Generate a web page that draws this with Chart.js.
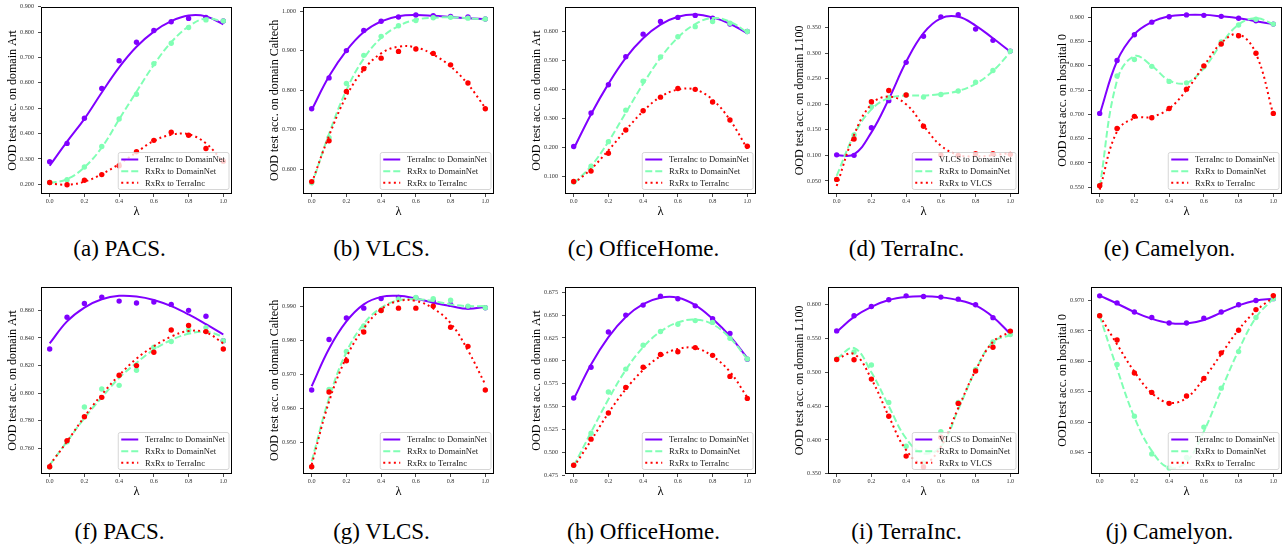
<!DOCTYPE html>
<html>
<head>
<meta charset="utf-8">
<script src="https://cdn.jsdelivr.net/npm/chart.js@4.4.0/dist/chart.umd.min.js"></script>
<style>
  body { margin: 0; background: #fff; width: 1287px; height: 550px; position: relative; overflow: hidden; }
  canvas { position: absolute; }
  .cap { position: absolute; font: 23px "Liberation Serif", serif; color: #000; white-space: nowrap; transform: translate(-50%, -50%); line-height: 1; }
</style>
</head>
<body>
<script>
// lambda values shared by all panels
const LAMBDA = [0, 0.1, 0.2, 0.3, 0.4, 0.5, 0.6, 0.7, 0.8, 0.9, 1.0];
const X_TICKS = [0, 0.2, 0.4, 0.6, 0.8, 1.0];

const NAMES_TERRA = ['TerraInc to DomainNet', 'RxRx to DomainNet', 'RxRx to TerraInc'];
const NAMES_VLCS = ['VLCS to DomainNet', 'RxRx to DomainNet', 'RxRx to VLCS'];

// p = measured points, f = fitted curve, 1 purple / 2 green / 3 red
// (a) PACS
const a_p1 = [0.289, 0.361, 0.460, 0.578, 0.687, 0.760, 0.806, 0.841, 0.854, 0.858, 0.844];
const a_f1 = [0.273, 0.368, 0.458, 0.562, 0.661, 0.742, 0.802, 0.843, 0.865, 0.862, 0.831];
const a_p2 = [0.207, 0.218, 0.268, 0.349, 0.457, 0.555, 0.675, 0.756, 0.818, 0.848, 0.844];
const a_f2 = [0.204, 0.220, 0.267, 0.345, 0.456, 0.565, 0.671, 0.760, 0.822, 0.854, 0.841];
const a_p3 = [0.207, 0.198, 0.216, 0.238, 0.273, 0.328, 0.373, 0.405, 0.393, 0.341, 0.291];
const a_f3 = [0.203, 0.198, 0.210, 0.240, 0.280, 0.326, 0.371, 0.395, 0.397, 0.361, 0.287];
const a_ticks = [0.2, 0.3, 0.4, 0.5, 0.6, 0.7, 0.8, 0.9];

// (b) VLCS
const b_p1 = [0.753, 0.831, 0.900, 0.951, 0.974, 0.985, 0.990, 0.988, 0.986, 0.985, 0.980];
const b_f1 = [0.750, 0.835, 0.900, 0.947, 0.974, 0.987, 0.990, 0.988, 0.985, 0.982, 0.980];
const b_p2 = [0.566, 0.680, 0.817, 0.888, 0.936, 0.963, 0.976, 0.983, 0.984, 0.982, 0.980];
const b_f2 = [0.560, 0.690, 0.800, 0.880, 0.932, 0.962, 0.978, 0.983, 0.984, 0.982, 0.978];
const b_p3 = [0.569, 0.672, 0.797, 0.854, 0.881, 0.898, 0.904, 0.893, 0.864, 0.818, 0.753];
const b_f3 = [0.565, 0.685, 0.785, 0.852, 0.893, 0.910, 0.908, 0.890, 0.860, 0.815, 0.755];
const b_ticks = [0.6, 0.7, 0.8, 0.9, 1.0];

// (c) OfficeHome
const c_p1 = [0.203, 0.319, 0.417, 0.514, 0.592, 0.636, 0.650, 0.657, 0.647, 0.627, 0.601];
const c_f1 = [0.195, 0.315, 0.420, 0.510, 0.578, 0.625, 0.652, 0.660, 0.650, 0.628, 0.595];
const c_p2 = [0.080, 0.135, 0.220, 0.329, 0.429, 0.513, 0.583, 0.618, 0.636, 0.630, 0.601];
const c_f2 = [0.075, 0.135, 0.220, 0.320, 0.420, 0.510, 0.580, 0.627, 0.648, 0.635, 0.598];
const c_p3 = [0.082, 0.118, 0.180, 0.260, 0.327, 0.374, 0.404, 0.401, 0.357, 0.295, 0.204];
const c_f3 = [0.075, 0.125, 0.190, 0.260, 0.325, 0.375, 0.400, 0.400, 0.365, 0.295, 0.195];
const c_ticks = [0.1, 0.2, 0.3, 0.4, 0.5, 0.6];

// (d) TerraInc
const d_p1 = [0.101, 0.100, 0.154, 0.207, 0.282, 0.333, 0.371, 0.375, 0.347, 0.325, 0.304];
const d_f1 = [0.100, 0.102, 0.145, 0.210, 0.283, 0.339, 0.368, 0.371, 0.354, 0.329, 0.303];
const d_p2 = [0.053, 0.140, 0.195, 0.213, 0.218, 0.214, 0.219, 0.226, 0.243, 0.266, 0.304];
const d_f2 = [0.060, 0.140, 0.190, 0.212, 0.217, 0.217, 0.220, 0.226, 0.240, 0.265, 0.302];
const d_p3 = [0.053, 0.132, 0.205, 0.227, 0.218, 0.157, 0.101, 0.100, 0.103, 0.103, 0.102];
const d_f3 = [0.040, 0.140, 0.200, 0.215, 0.200, 0.158, 0.119, 0.101, 0.098, 0.100, 0.105];
const d_ticks = [0.05, 0.1, 0.15, 0.2, 0.25, 0.3, 0.35];

// (e) Camelyon
const e_p1 = [0.702, 0.811, 0.864, 0.890, 0.901, 0.905, 0.904, 0.902, 0.898, 0.893, 0.886];
const e_f1 = [0.700, 0.810, 0.865, 0.890, 0.902, 0.905, 0.905, 0.902, 0.898, 0.892, 0.886];
const e_p2 = [0.553, 0.779, 0.813, 0.799, 0.768, 0.765, 0.798, 0.849, 0.884, 0.896, 0.886];
const e_f2 = [0.550, 0.770, 0.820, 0.800, 0.770, 0.765, 0.795, 0.845, 0.885, 0.898, 0.886];
const e_p3 = [0.553, 0.671, 0.696, 0.693, 0.712, 0.752, 0.800, 0.845, 0.862, 0.826, 0.702];
const e_f3 = [0.545, 0.665, 0.692, 0.695, 0.712, 0.750, 0.800, 0.847, 0.865, 0.825, 0.700];
const e_ticks = [0.55, 0.6, 0.65, 0.7, 0.75, 0.8, 0.85, 0.9];

// (f) PACS
const f_p1 = [0.832, 0.855, 0.865, 0.8696, 0.8667, 0.8653, 0.866, 0.8643, 0.860, 0.8557, 0.838];
const f_f1 = [0.836, 0.852, 0.862, 0.868, 0.8705, 0.870, 0.8675, 0.863, 0.857, 0.850, 0.8425];
const f_p2 = [0.7465, 0.7648, 0.790, 0.803, 0.8057, 0.8166, 0.8333, 0.8374, 0.8456, 0.8475, 0.838];
const f_f2 = [0.748, 0.765, 0.782, 0.797, 0.811, 0.822, 0.8315, 0.8385, 0.843, 0.8445, 0.841];
const f_p3 = [0.7468, 0.7657, 0.783, 0.797, 0.813, 0.820, 0.8297, 0.8458, 0.849, 0.8446, 0.832];
const f_f3 = [0.748, 0.765, 0.783, 0.799, 0.813, 0.825, 0.834, 0.841, 0.845, 0.844, 0.836];
const f_ticks = [0.76, 0.78, 0.80, 0.82, 0.84, 0.86];

// (g) VLCS
const g_p1 = [0.9654, 0.9802, 0.9865, 0.9894, 0.9922, 0.9925, 0.9924, 0.9915, 0.9905, 0.9897, 0.9895];
const g_f1 = [0.9665, 0.9775, 0.9855, 0.9905, 0.9927, 0.9930, 0.9922, 0.9910, 0.9900, 0.9892, 0.9898];
const g_p2 = [0.9429, 0.9656, 0.9767, 0.9842, 0.9887, 0.9920, 0.9925, 0.9922, 0.9917, 0.9900, 0.9895];
const g_f2 = [0.9445, 0.9630, 0.9765, 0.9848, 0.9895, 0.9917, 0.9920, 0.9915, 0.9905, 0.9900, 0.9900];
const g_p3 = [0.9429, 0.9648, 0.9740, 0.9824, 0.9887, 0.9894, 0.9894, 0.9900, 0.9838, 0.9782, 0.9654];
const g_f3 = [0.9435, 0.9620, 0.9750, 0.9835, 0.9890, 0.9915, 0.9915, 0.9893, 0.9850, 0.9770, 0.9670];
const g_ticks = [0.95, 0.96, 0.97, 0.98, 0.99];

// (h) OfficeHome
const h_p1 = [0.5594, 0.5931, 0.6315, 0.650, 0.6609, 0.6707, 0.6678, 0.6601, 0.646, 0.630, 0.6018];
const h_f1 = [0.558, 0.596, 0.626, 0.648, 0.662, 0.669, 0.669, 0.661, 0.646, 0.627, 0.603];
const h_p2 = [0.486, 0.521, 0.566, 0.591, 0.617, 0.632, 0.640, 0.644, 0.642, 0.6246, 0.602];
const h_f2 = [0.485, 0.522, 0.558, 0.590, 0.615, 0.632, 0.642, 0.645, 0.640, 0.625, 0.602];
const h_p3 = [0.486, 0.5145, 0.543, 0.571, 0.593, 0.607, 0.610, 0.6145, 0.606, 0.583, 0.559];
const h_f3 = [0.484, 0.513, 0.543, 0.569, 0.590, 0.605, 0.613, 0.614, 0.605, 0.588, 0.560];
const h_ticks = [0.475, 0.5, 0.525, 0.55, 0.575, 0.6, 0.625, 0.65, 0.675];

// (i) TerraInc
const i_p1 = [0.5613, 0.5838, 0.5975, 0.6074, 0.6132, 0.6123, 0.6113, 0.6083, 0.600, 0.5809, 0.5603];
const i_f1 = [0.560, 0.582, 0.597, 0.607, 0.6115, 0.6125, 0.611, 0.607, 0.599, 0.582, 0.557];
const i_p2 = [0.5196, 0.530, 0.5108, 0.4554, 0.3907, 0.366, 0.412, 0.4554, 0.5044, 0.545, 0.556];
const i_f2 = [0.520, 0.536, 0.500, 0.450, 0.402, 0.380, 0.390, 0.445, 0.503, 0.545, 0.555];
const i_p3 = [0.519, 0.5186, 0.490, 0.435, 0.376, 0.360, 0.404, 0.454, 0.502, 0.537, 0.561];
const i_f3 = [0.520, 0.527, 0.490, 0.435, 0.385, 0.365, 0.390, 0.447, 0.503, 0.545, 0.560];
const i_ticks = [0.35, 0.4, 0.45, 0.5, 0.55, 0.6];

// (j) Camelyon
const j_p1 = [0.97076, 0.9696, 0.9681, 0.9672, 0.9663, 0.9663, 0.9671, 0.9681, 0.9693, 0.9700, 0.9703];
const j_f1 = [0.9708, 0.9695, 0.9681, 0.9670, 0.9663, 0.9662, 0.9668, 0.9680, 0.9692, 0.9700, 0.9703];
const j_p2 = [0.9675, 0.9595, 0.9510, 0.9448, 0.9425, 0.9442, 0.9492, 0.9556, 0.9616, 0.9672, 0.9703];
const j_f2 = [0.9675, 0.9588, 0.9508, 0.9453, 0.9425, 0.9435, 0.9485, 0.9553, 0.9618, 0.9672, 0.9703];
const j_p3 = [0.9675, 0.9635, 0.9581, 0.9549, 0.9531, 0.9543, 0.9572, 0.9614, 0.9651, 0.9685, 0.9708];
const j_f3 = [0.9675, 0.9628, 0.9583, 0.9548, 0.9532, 0.9540, 0.9572, 0.9612, 0.9652, 0.9683, 0.9705];
const j_ticks = [0.945, 0.95, 0.955, 0.96, 0.965, 0.97];

const PANELS = [
  { cap: '(a) PACS.',       ytitle: 'OOD test acc. on domain Art',     names: NAMES_TERRA, pts: [a_p1, a_p2, a_p3], fit: [a_f1, a_f2, a_f3], ticks: a_ticks, min: 0.1615, max: 0.900 },
  { cap: '(b) VLCS.',       ytitle: 'OOD test acc. on domain Caltech', names: NAMES_TERRA, pts: [b_p1, b_p2, b_p3], fit: [b_f1, b_f2, b_f3], ticks: b_ticks, min: 0.5377, max: 1.0109 },
  { cap: '(c) OfficeHome.', ytitle: 'OOD test acc. on domain Art',     names: NAMES_TERRA, pts: [c_p1, c_p2, c_p3], fit: [c_f1, c_f2, c_f3], ticks: c_ticks, min: 0.0387, max: 0.687 },
  { cap: '(d) TerraInc.',   ytitle: 'OOD test acc. on domain L100',    names: NAMES_VLCS,  pts: [d_p1, d_p2, d_p3], fit: [d_f1, d_f2, d_f3], ticks: d_ticks, min: 0.0244, max: 0.3908 },
  { cap: '(e) Camelyon.',   ytitle: 'OOD test acc. on hospital 0',     names: NAMES_TERRA, pts: [e_p1, e_p2, e_p3], fit: [e_f1, e_f2, e_f3], ticks: e_ticks, min: 0.536, max: 0.9218 },
  { cap: '(f) PACS.',       ytitle: 'OOD test acc. on domain Art',     names: NAMES_TERRA, pts: [f_p1, f_p2, f_p3], fit: [f_f1, f_f2, f_f3], ticks: f_ticks, min: 0.7415, max: 0.8771 },
  { cap: '(g) VLCS.',       ytitle: 'OOD test acc. on domain Caltech', names: NAMES_TERRA, pts: [g_p1, g_p2, g_p3], fit: [g_f1, g_f2, g_f3], ticks: g_ticks, min: 0.94078, max: 0.99568 },
  { cap: '(h) OfficeHome.', ytitle: 'OOD test acc. on domain Art',     names: NAMES_TERRA, pts: [h_p1, h_p2, h_p3], fit: [h_f1, h_f2, h_f3], ticks: h_ticks, min: 0.4764, max: 0.681 },
  { cap: '(i) TerraInc.',   ytitle: 'OOD test acc. on domain L100',    names: NAMES_VLCS,  pts: [i_p1, i_p2, i_p3], fit: [i_f1, i_f2, i_f3], ticks: i_ticks, min: 0.3495, max: 0.6267 },
  { cap: '(j) Camelyon.',   ytitle: 'OOD test acc. on hospital 0',     names: NAMES_TERRA, pts: [j_p1, j_p2, j_p3], fit: [j_f1, j_f2, j_f3], ticks: j_ticks, min: 0.9415, max: 0.97226 }
];

// look of the three series (rainbow colormap ends + middle)
const COLORS = ['#8000ff', '#80ffb4', '#ff0000'];
const DASHES = [[], [7, 3], [2, 3.3]];

// layout of the 2x5 grid
const COL_LEFT = [41, 303, 565, 828, 1091];
const ROW_TOP = [5, 285];
const CAP_Y = [248, 531];
const PLOT_W = 191, PLOT_H = 189;
const Y_AXIS_W = 35, X_AXIS_H = 25, PAD_T = 6, PAD_R = 4;
const SERIF = '"Liberation Serif", "Times New Roman", serif';

// matplotlib-like box around the axes + legend inside lower right
const frameAndLegend = {
  id: 'frameAndLegend',
  afterDatasetsDraw(chart) {
    const { ctx, chartArea: a } = chart;
    ctx.save();
    ctx.strokeStyle = '#000';
    ctx.lineWidth = 1;
    ctx.strokeRect(Math.round(a.left) + 0.5, Math.round(a.top) + 0.5, Math.round(a.right - a.left) - 1, Math.round(a.bottom - a.top) - 1);

    const items = chart.data.datasets.filter(d => d.isFit);
    ctx.font = '8.6px ' + SERIF;
    const textW = Math.max(...items.map(d => ctx.measureText(d.label).width));
    const w = 26.7 + textW + 4, h = 37;
    const x = a.right - 3 - w, y = a.bottom - 4.5 - h, r = 2;
    ctx.beginPath();
    ctx.moveTo(x + r, y);
    ctx.arcTo(x + w, y, x + w, y + h, r);
    ctx.arcTo(x + w, y + h, x, y + h, r);
    ctx.arcTo(x, y + h, x, y, r);
    ctx.arcTo(x, y, x + w, y, r);
    ctx.closePath();
    ctx.fillStyle = 'rgba(255,255,255,0.8)';
    ctx.fill();
    ctx.strokeStyle = '#cccccc';
    ctx.lineWidth = 0.8;
    ctx.stroke();

    items.forEach((d, k) => {
      const cy = y + 7 + 11.65 * k;
      ctx.beginPath();
      ctx.setLineDash(d.borderDash);
      ctx.strokeStyle = d.borderColor;
      ctx.lineWidth = d.borderWidth;
      ctx.moveTo(x + 3, cy);
      ctx.lineTo(x + 20, cy);
      ctx.stroke();
      ctx.setLineDash([]);
      ctx.fillStyle = '#222';
      ctx.textBaseline = 'middle';
      ctx.textAlign = 'left';
      ctx.fillText(d.label, x + 26.7, cy + 0.5);
    });
    ctx.restore();
  }
};

PANELS.forEach((p, idx) => {
  const col = idx % 5, row = Math.floor(idx / 5);
  const plotLeft = COL_LEFT[col], plotTop = ROW_TOP[row];

  const cv = document.createElement('canvas');
  cv.width = Y_AXIS_W + PLOT_W + PAD_R;
  cv.height = PAD_T + PLOT_H + X_AXIS_H;
  cv.style.left = (plotLeft - Y_AXIS_W) + 'px';
  cv.style.top = (plotTop - PAD_T) + 'px';
  document.body.appendChild(cv);

  const cap = document.createElement('div');
  cap.className = 'cap';
  cap.textContent = p.cap;
  cap.style.left = (plotLeft + PLOT_W / 2 - 17) + 'px';
  cap.style.top = CAP_Y[row] + 'px';
  document.body.appendChild(cap);

  const datasets = [];
  p.fit.forEach((fit, k) => {
    datasets.push({
      label: p.names[k], isFit: true,
      data: LAMBDA.map((x, j) => ({ x, y: fit[j] })),
      showLine: true, borderColor: COLORS[k], borderWidth: 2, borderDash: DASHES[k],
      pointRadius: 0, tension: 0.4, order: 5 - 2 * k
    });
    datasets.push({
      label: p.names[k] + ' (points)',
      data: LAMBDA.map((x, j) => ({ x, y: p.pts[k][j] })),
      backgroundColor: COLORS[k], borderWidth: 0, pointRadius: 2.7, order: 4 - 2 * k
    });
  });

  const axisBits = {
    grid: { display: true, drawOnChartArea: false, tickLength: 3, color: '#000', lineWidth: 0.7 },
    border: { display: false }
  };

  new Chart(cv, {
    type: 'scatter',
    data: { datasets },
    options: {
      responsive: false,
      animation: false,
      events: [],
      layout: { padding: { top: PAD_T, right: PAD_R, left: 0, bottom: 0 } },
      plugins: { legend: { display: false }, tooltip: { enabled: false } },
      scales: {
        x: {
          type: 'linear', min: -0.05, max: 1.05, ...axisBits,
          afterBuildTicks: s => { s.ticks = X_TICKS.map(v => ({ value: v })); },
          afterFit: s => { s.height = X_AXIS_H; },
          ticks: { font: { family: SERIF, size: 6.2 }, color: '#333', padding: 1, maxRotation: 0, autoSkip: false,
                   callback: v => v.toFixed(1) },
          title: { display: true, text: 'λ', font: { family: SERIF, size: 12.5 }, color: '#000', padding: 0 }
        },
        y: {
          type: 'linear', min: p.min, max: p.max, ...axisBits,
          afterBuildTicks: s => { s.ticks = p.ticks.map(v => ({ value: v })); },
          afterFit: s => { s.width = Y_AXIS_W; },
          ticks: { font: { family: SERIF, size: 6.2 }, color: '#333', padding: 4, autoSkip: false,
                   callback: v => v.toFixed(3) },
          title: { display: true, text: p.ytitle, font: { family: SERIF, size: 12 }, color: '#000', padding: 0 }
        }
      }
    },
    plugins: [frameAndLegend]
  });
});
</script>
</body>
</html>
